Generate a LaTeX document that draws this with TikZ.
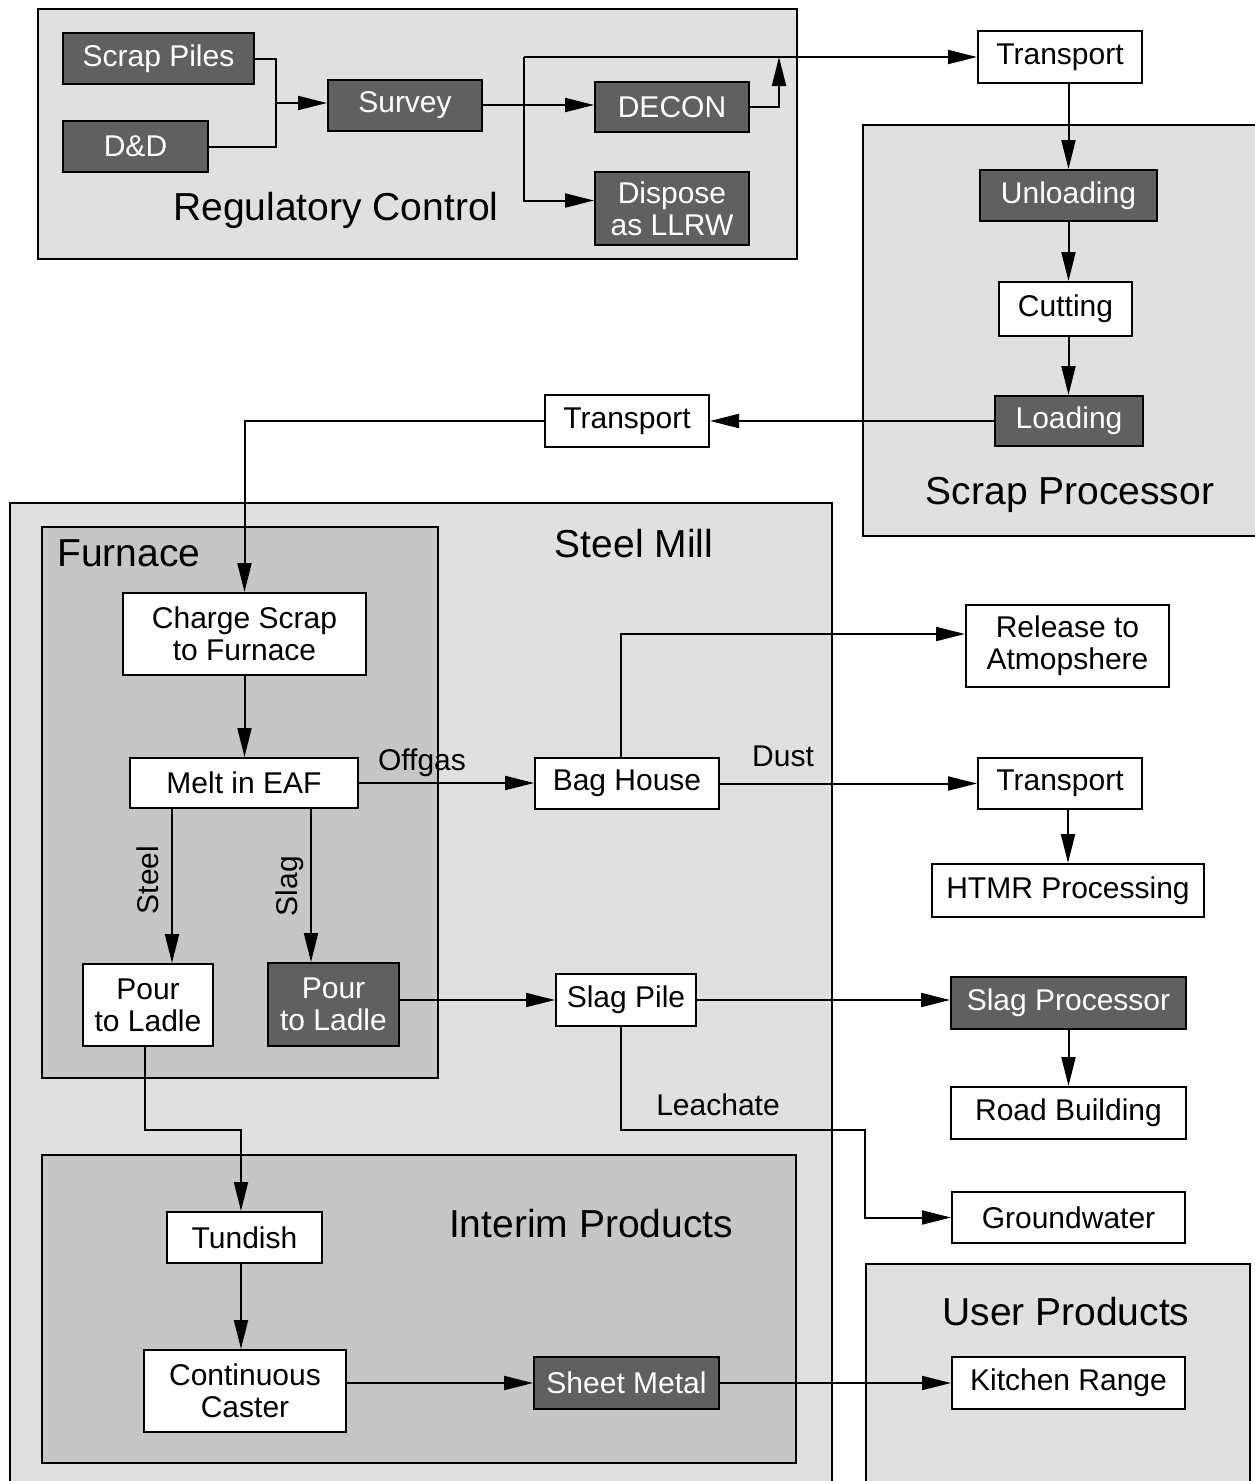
\documentclass[tikz,border=0pt]{standalone}
\usepackage{fontspec}
\setmainfont{Liberation Sans}
\usetikzlibrary{arrows.meta}
\definecolor{lightbg}{HTML}{E0E0E0}
\definecolor{midbg}{HTML}{C6C6C6}
\definecolor{darkbox}{HTML}{606060}
\newcommand{\fsN}{\fontsize{30}{32}\selectfont}
\newcommand{\fsT}{\fontsize{39}{43}\selectfont}
\tikzset{
  wbox/.style={draw, line width=2pt, fill=white, inner sep=0pt, align=center, font=\fsN},
  dbox/.style={wbox, fill=darkbox, text=white},
  region/.style={draw, line width=2pt},
  conn/.style={line width=2pt},
  arr/.style={line width=2pt, -{Triangle[length=29pt,width=14pt]}},
  lbl/.style={font=\fsN, inner sep=0pt},
  ttl/.style={font=\fsT, inner sep=0pt},
}
\begin{document}
\begin{tikzpicture}[x=1pt,y=-1pt]
\useasboundingbox (0,0) rectangle (1254,1481);
\fill[white] (0,0) rectangle (1254,1481);
% regions
\draw[region, fill=lightbg] (38,9) rectangle (797,259);
\draw[region, fill=lightbg] (863,125) rectangle (1270,536);
\draw[region, fill=lightbg] (10,503) rectangle (832,1500);
\draw[region, fill=midbg] (42,527) rectangle (438,1078);
\draw[region, fill=midbg] (42,1155) rectangle (796,1463);
\draw[region, fill=lightbg] (866,1264) rectangle (1250,1500);
% titles
\node[ttl] (tReg) at (336,210) {Regulatory Control};
\node[ttl] (tScrap) at (1070,495) {Scrap Processor};
\node[ttl] (tMill) at (634,544) {Steel Mill};
\node[ttl, anchor=west] (tFurn) at (57,553) {Furnace};
\node[ttl] (tInt) at (591,1224) {Interim Products};
\node[ttl] (tUser) at (1066,1312) {User Products};
% nodes
\node[dbox, minimum width=191, minimum height=51] (scrap) at (158.5,58.5) {Scrap Piles};
\node[dbox, minimum width=145, minimum height=51] (dd) at (135.5,146.5) {D\&D};
\node[dbox, minimum width=154, minimum height=51] (survey) at (405,105) {Survey};
\node[dbox, minimum width=154, minimum height=50] (decon) at (672,107) {DECON};
\node[dbox, minimum width=154, minimum height=73] (dispose) at (672,208.5) {Dispose\\as LLRW};
\node[wbox, minimum width=164, minimum height=52] (tr1) at (1060,57) {Transport};
\node[dbox, minimum width=177, minimum height=51] (unload) at (1068.5,195.5) {Unloading};
\node[wbox, minimum width=133, minimum height=54] (cut) at (1065.5,309) {Cutting};
\node[dbox, minimum width=148, minimum height=50] (load) at (1069,421) {Loading};
\node[wbox, minimum width=164, minimum height=52] (tr2) at (627,421) {Transport};
\node[wbox, minimum width=243, minimum height=82] (charge) at (244.5,634) {Charge Scrap\\to Furnace};
\node[wbox, minimum width=228, minimum height=50] (melt) at (244,783) {Melt in EAF};
\node[wbox, minimum width=130, minimum height=82] (pourA) at (148,1005) {Pour\\to Ladle};
\node[dbox, minimum width=131, minimum height=83] (pourB) at (333.5,1004.5) {Pour\\to Ladle};
\node[wbox, minimum width=184, minimum height=51] (bag) at (627,783.5) {Bag House};
\node[wbox, minimum width=203, minimum height=82] (release) at (1067.5,646) {Release to\\Atmopshere};
\node[wbox, minimum width=164, minimum height=51] (tr3) at (1060,783.5) {Transport};
\node[wbox, minimum width=272, minimum height=53] (htmr) at (1068,890.5) {HTMR Processing};
\node[wbox, minimum width=140, minimum height=52] (slagpile) at (626,1000) {Slag Pile};
\node[dbox, minimum width=235, minimum height=52] (slagproc) at (1068.5,1003) {Slag Processor};
\node[wbox, minimum width=235, minimum height=52] (road) at (1068.5,1113) {Road Building};
\node[wbox, minimum width=233, minimum height=51] (ground) at (1068.5,1217.5) {Groundwater};
\node[wbox, minimum width=155, minimum height=51] (tundish) at (244.5,1237.5) {Tundish};
\node[wbox, minimum width=202, minimum height=82] (caster) at (245,1391) {Continuous\\Caster};
\node[dbox, minimum width=185, minimum height=52] (sheet) at (626.5,1383) {Sheet Metal};
\node[wbox, minimum width=233, minimum height=52] (kitchen) at (1068.5,1383) {Kitchen Range};
% coordinates
\coordinate (j1) at (276,103);
\coordinate (br) at (524,104);
\coordinate (up) at (779,57);
\coordinate (bagup) at (621,758);
\coordinate (lj) at (865,1130);
\coordinate (sj) at (241,1130);
% connectors: regulatory control
\draw[conn] (scrap.east) -| (j1);
\draw[conn] (dd.east) -| (j1);
\draw[arr] (j1) -- (survey.west |- j1);
\draw[arr] (survey.east) -- (survey.east -| decon.west);
\draw[arr] (br |- tr1.west) -- (tr1.west);
\draw[arr] (br |- tr1.west) |- ([yshift=8]dispose.west);
\draw[arr] (decon.east) -| (up);
% scrap processor
\draw[arr] (tr1.south -| unload.north) -- (unload.north);
\draw[arr] (unload.south) -- (unload.south |- cut.north);
\draw[arr] (cut.south -| unload.south) -- (load.north -| unload.south);
\draw[arr] (load.west) -- (tr2.east);
\draw[arr] (tr2.west) -| (charge.north);
% furnace
\draw[arr] (charge.south) -- (charge.south |- melt.north);
\draw[arr] ([xshift=-72]melt.south) -- ([xshift=-72]melt.south |- pourA.north);
\draw[arr] ([xshift=67]melt.south) -- ([xshift=67]melt.south |- pourB.north);
\node[lbl, rotate=90] (lSteel) at (148,880) {Steel};
\node[lbl, rotate=90] (lSlag) at (290,886) {Slag};
\draw[arr] (melt.east) -- (bag.west |- melt.east);
\node[lbl] (lOff) at (422,763) {Offgas};
\draw[arr] (bagup) |- ([yshift=12]release.west);
\draw[arr] (bag.east) -- (tr3.west);
\node[lbl] (lDust) at (783,756) {Dust};
\draw[arr] (tr3.south -| htmr.north) -- (htmr.north);
\draw[arr] (pourB.east |- slagpile.west) -- (slagpile.west);
\draw[arr] (slagpile.east) -- (slagpile.east -| slagproc.west);
\draw[arr] (slagproc.south) -- (road.north);
\draw[arr] ([xshift=-5]slagpile.south) |- (lj) |- (ground.west);
\node[lbl] (lLea) at (718,1105) {Leachate};
\draw[arr] ([xshift=-3]pourA.south) |- (sj) -- (sj |- tundish.north);
\draw[arr] (tundish.south -| sj) -- (caster.north -| sj);
\draw[arr] (caster.east |- sheet.west) -- (sheet.west);
\draw[arr] (sheet.east) -- (kitchen.west);
\end{tikzpicture}
\end{document}
